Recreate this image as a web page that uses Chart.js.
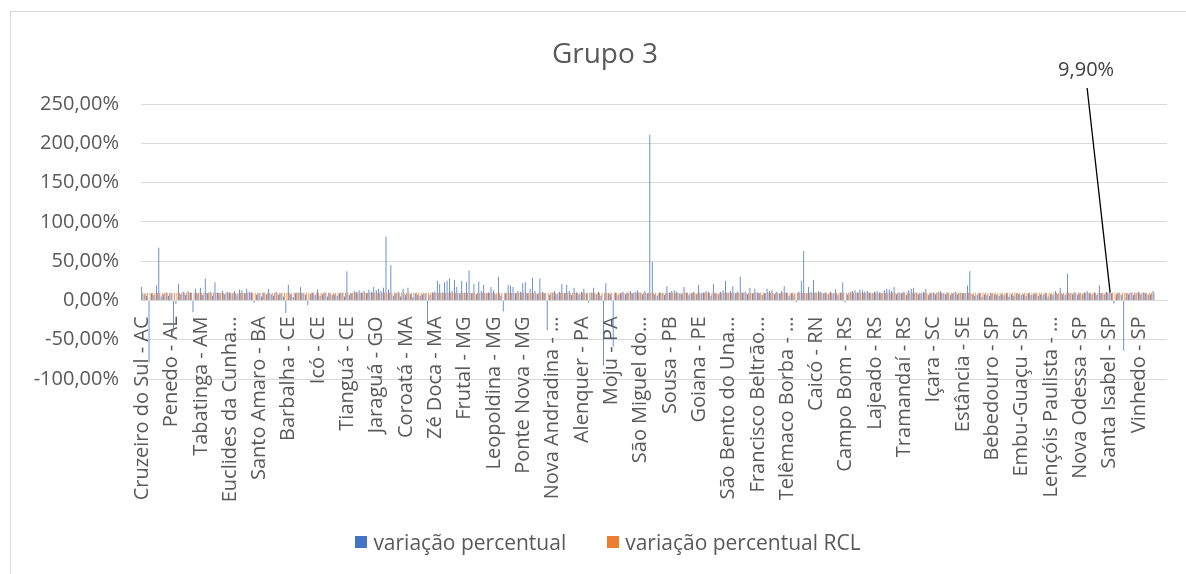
<!DOCTYPE html>
<html>
<head>
<meta charset="utf-8">
<script src="https://cdn.jsdelivr.net/npm/chart.js@4.4.1/dist/chart.umd.min.js"></script>
<style>
  html, body { margin: 0; padding: 0; background: #fff; overflow: hidden; }
  #box { position: absolute; left: 10px; top: 11px; width: 1196px; height: 600px; border: 1px solid #d9d9d9; box-sizing: border-box; }
  #chart { position: absolute; left: 0; top: 0; }
  #title { position: absolute; left: 0; top: 24px; width: 100%; box-sizing: border-box; padding-right: 6px; text-align: center;
           font: 28px "Open Sans", sans-serif; color: #595959; line-height: 32px; }
  #legend { position: absolute; left: 0; top: 516px; width: 100%; height: 28px; display: flex; justify-content: center; gap: 41px;
            font: 21px "Open Sans", sans-serif; color: #595959; line-height: 28px; }
  #legend .item { display: flex; align-items: center; }
  #legend .swatch { display: inline-block; width: 12px; height: 12px; margin-right: 6px; }
</style>
</head>
<body>
<div id="box">
  <canvas id="chart" width="1194" height="562"></canvas>
  <div id="title"></div>
  <div id="legend"></div>
</div>
<script>
const chartTitle = 'Grupo 3';

// Category names shown on the axis (one every labelStep categories)
const categoryNames = [
  'Cruzeiro do Sul - AC', 'Penedo - AL', 'Tabatinga - AM', 'Euclides da Cunha…', 'Santo Amaro - BA',
  'Barbalha - CE', 'Icó - CE', 'Tianguá - CE', 'Jaraguá - GO', 'Coroatá - MA', 'Zé Doca - MA',
  'Frutal - MG', 'Leopoldina - MG', 'Ponte Nova - MG', 'Nova Andradina - …', 'Alenquer - PA',
  'Moju - PA', 'São Miguel do…', 'Sousa - PB', 'Goiana - PE', 'São Bento do Una…',
  'Francisco Beltrão…', 'Telêmaco Borba - …', 'Caicó - RN', 'Campo Bom - RS', 'Lajeado - RS',
  'Tramandaí - RS', 'Içara - SC', 'Estância - SE', 'Bebedouro - SP', 'Embu-Guaçu - SP',
  'Lençóis Paulista - …', 'Nova Odessa - SP', 'Santa Isabel - SP', 'Vinhedo - SP'
];
const labelStep = 12;

// variação percentual (%), one row per labelled group of 12 municipalities
const variacaoValues = [
  17, 8, 6, -79, 9, 7, 19, 67, 5, 8, 10, 6,
  9, -40, -5, 21, 8, 11, 7, 12, 10, -15, 15, 9,
  16, 7, 28, 9, 11, 6, 23, 10, 9, 12, 8, 11,
  10, 9, 12, 8, 14, 13, 9, 15, 11, 10, -3, 7,
  9, 5, 10, 8, 15, 8, 6, 11, 7, 9, 5, -16,
  20, 8, 4, 9, 10, 17, 9, 7, -6, 8, 10, 7,
  14, 6, 8, 10, 5, 9, 7, 8, 6, 9, 10, 5,
  37, 7, 9, 12, 11, 13, 10, 12, 9, 14, 11, 17,
  13, 15, 12, 16, 81, 14, 45, 6, 9, 11, 5, 15,
  7, 16, 8, 4, 9, 7, 6, 8, 9, -28, 7, 10,
  11, 25, 21, 10, 23, 25, 28, 12, 26, 17, 9, 25,
  10, 23, 38, 9, 21, 8, 24, 12, 20, 9, 10, 17,
  13, 8, 30, 6, -14, 9, 20, 19, 17, 9, 12, 11,
  22, 23, 9, 15, 29, 12, 8, 28, 11, 9, -38, 7,
  10, 12, 8, 11, 21, 9, 20, 12, 7, 16, 10, 8,
  11, 15, 9, -3, 10, 16, 8, 11, 6, -83, 22, 9,
  8, -59, 10, 7, 9, 11, 8, 10, 12, 9, 11, 13,
  10, 8, 12, 9, 211, 49, 8, 6, 10, 9, 7, 18,
  10, 12, 13, 11, 9, 8, 17, 10, 7, 9, 11, 8,
  20, 9, 10, 12, 11, 6, 21, 9, 8, 11, 13, 25,
  10, 12, 18, 9, 11, 30, 10, 11, 8, 16, 9, 15,
  10, 9, 7, 9, 15, 12, 13, 8, 11, 9, 12, 18,
  10, 6, 9, 8, -2, 11, 25, 63, 9, 17, 11, 26,
  10, 12, 11, 9, 10, 8, 11, 9, 14, 7, 10, 23,
  -2, 8, 11, 12, 13, 10, 14, 13, 11, 12, 10, 9,
  11, 12, 10, 9, 13, 15, 14, 12, 17, 8, 10, 9,
  11, 7, 13, 15, 16, 10, 8, 9, 11, 15, 7, 9,
  10, 8, 11, 12, 9, 8, 10, 7, 9, 11, 8, 10,
  9, 9, 19, 37, 8, 6, 7, 9, 5, 8, 7, 6,
  9, 8, 7, 6, 8, 7, 9, 5, 8, 6, 9, 8,
  7, 8, 6, 9, 7, 8, 9, 6, 8, 7, 9, 5,
  8, 7, 12, 8, 16, 8, 7, 34, 9, 8, 10, 7,
  9, 8, 10, 12, 9, 8, 10, 7, 19, 9, 8, 11,
  10, 9, -4, 8, 10, 7, -64, 9, 8, 10, 7, 9,
  11, 8, 10, 9, 7, 8, 12, null, null, null, null, null
];

// variação percentual RCL (%)
const rclValues = [
  9.9, 9.9, 9.9, 9.9, 9.9, 9.9, 9.9, 9.9, 9.9, 9.9, 9.9, 9.9,
  9.9, 9.9, 9.9, 9.9, 9.9, 9.9, 9.9, 9.9, 9.9, 9.9, 9.9, 9.9,
  9.9, 9.9, 9.9, 9.9, 9.9, 9.9, 9.9, 9.9, 9.9, 9.9, 9.9, 9.9,
  9.9, 9.9, 9.9, 9.9, 9.9, 9.9, 9.9, 9.9, 9.9, 9.9, 9.9, 9.9,
  9.9, 9.9, 9.9, 9.9, 9.9, 9.9, 9.9, 9.9, 9.9, 9.9, 9.9, 9.9,
  9.9, 9.9, 9.9, 9.9, 9.9, 9.9, 9.9, 9.9, 9.9, 9.9, 9.9, 9.9,
  9.9, 9.9, 9.9, 9.9, 9.9, 9.9, 9.9, 9.9, 9.9, 9.9, 9.9, 9.9,
  9.9, 9.9, 9.9, 9.9, 9.9, 9.9, 9.9, 9.9, 9.9, 9.9, 9.9, 9.9,
  9.9, 9.9, 9.9, 9.9, 9.9, 9.9, 9.9, 9.9, 9.9, 9.9, 9.9, 9.9,
  9.9, 9.9, 9.9, 9.9, 9.9, 9.9, 9.9, 9.9, 9.9, 9.9, 9.9, 9.9,
  9.9, 9.9, 9.9, 9.9, 9.9, 9.9, 9.9, 9.9, 9.9, 9.9, 9.9, 9.9,
  9.9, 9.9, 9.9, 9.9, 9.9, 9.9, 9.9, 9.9, 9.9, 9.9, 9.9, 9.9,
  9.9, 9.9, 9.9, 9.9, 9.9, 9.9, 9.9, 9.9, 9.9, 9.9, 9.9, 9.9,
  9.9, 9.9, 9.9, 9.9, 9.9, 9.9, 9.9, 9.9, 9.9, 9.9, 9.9, 9.9,
  9.9, 9.9, 9.9, 9.9, 9.9, 9.9, 9.9, 9.9, 9.9, 9.9, 9.9, 9.9,
  9.9, 9.9, 9.9, 9.9, 9.9, 9.9, 9.9, 9.9, 9.9, 9.9, 9.9, 9.9,
  9.9, 9.9, 9.9, 9.9, 9.9, 9.9, 9.9, 9.9, 9.9, 9.9, 9.9, 9.9,
  9.9, 9.9, 9.9, 9.9, 9.9, 9.9, 9.9, 9.9, 9.9, 9.9, 9.9, 9.9,
  9.9, 9.9, 9.9, 9.9, 9.9, 9.9, 9.9, 9.9, 9.9, 9.9, 9.9, 9.9,
  9.9, 9.9, 9.9, 9.9, 9.9, 9.9, 9.9, 9.9, 9.9, 9.9, 9.9, 9.9,
  9.9, 9.9, 9.9, 9.9, 9.9, 9.9, 9.9, 9.9, 9.9, 9.9, 9.9, 9.9,
  9.9, 9.9, 9.9, 9.9, 9.9, 9.9, 9.9, 9.9, 9.9, 9.9, 9.9, 9.9,
  9.9, 9.9, 9.9, 9.9, 9.9, 9.9, 9.9, 9.9, 9.9, 9.9, 9.9, 9.9,
  9.9, 9.9, 9.9, 9.9, 9.9, 9.9, 9.9, 9.9, 9.9, 9.9, 9.9, 9.9,
  9.9, 9.9, 9.9, 9.9, 9.9, 9.9, 9.9, 9.9, 9.9, 9.9, 9.9, 9.9,
  9.9, 9.9, 9.9, 9.9, 9.9, 9.9, 9.9, 9.9, 9.9, 9.9, 9.9, 9.9,
  9.9, 9.9, 9.9, 9.9, 9.9, 9.9, 9.9, 9.9, 9.9, 9.9, 9.9, 9.9,
  9.9, 9.9, 9.9, 9.9, 9.9, 9.9, 9.9, 9.9, 9.9, 9.9, 9.9, 9.9,
  9.9, 9.9, 9.9, 9.9, 9.9, 9.9, 9.9, 9.9, 9.9, 9.9, 9.9, 9.9,
  9.9, 9.9, 9.9, 9.9, 9.9, 9.9, 9.9, 9.9, 9.9, 9.9, 9.9, 9.9,
  9.9, 9.9, 9.9, 9.9, 9.9, 9.9, 9.9, 9.9, 9.9, 9.9, 9.9, 9.9,
  9.9, 9.9, 9.9, 9.9, 9.9, 9.9, 9.9, 9.9, 9.9, 9.9, 9.9, 9.9,
  9.9, 9.9, 9.9, 9.9, 9.9, 9.9, 9.9, 9.9, 9.9, 9.9, 9.9, 9.9,
  9.9, 9.9, 9.9, 9.9, 9.9, 9.9, 9.9, 9.9, 9.9, 9.9, 9.9, 9.9,
  9.9, 9.9, 9.9, 9.9, 9.9, 9.9, 9.9, null, null, null, null, null
];

// Y axis range
const yMin = -100;
const yMax = 250;
const yStep = 50;

// The RCL bar that carries the "9,90%" call-out label
const calloutIndex = 396;

const seriesNames = ['variação percentual', 'variação percentual RCL'];
const seriesColors = ['#4472C4', '#ED7D31'];
const textColor = '#595959';
const fontFamily = '"Open Sans", sans-serif';

// Only every labelStep-th category shows its name
const labels = variacaoValues.map((v, i) => (i % labelStep === 0) ? categoryNames[i / labelStep] : '');

const pct = (v) => v.toFixed(2).replace('.', ',') + '%';

// Draw the data label with its leader line
const calloutPlugin = {
  id: 'callout',
  afterDatasetsDraw(chart) {
    const bar = chart.getDatasetMeta(1).data[calloutIndex];
    if (!bar) return;
    const ctx = chart.ctx;
    const tx = bar.x - 24;
    const ty = chart.chartArea.top - 34;
    ctx.save();
    ctx.font = '20px ' + fontFamily;
    ctx.fillStyle = '#404040';
    ctx.textAlign = 'center';
    ctx.textBaseline = 'middle';
    ctx.fillText(pct(rclValues[calloutIndex]), tx, ty);
    ctx.beginPath();
    ctx.moveTo(tx + 1, ty + 18);
    ctx.lineTo(bar.x, bar.y);
    ctx.strokeStyle = '#000';
    ctx.lineWidth = 1.3;
    ctx.stroke();
    ctx.restore();
  }
};

Chart.defaults.font.family = fontFamily;

new Chart(document.getElementById('chart'), {
  type: 'bar',
  data: {
    labels: labels,
    datasets: [
      { label: seriesNames[0], data: variacaoValues, backgroundColor: seriesColors[0], borderWidth: 0 },
      { label: seriesNames[1], data: rclValues, backgroundColor: seriesColors[1], borderWidth: 0 }
    ]
  },
  options: {
    responsive: false,
    animation: false,
    categoryPercentage: 0.85,
    barPercentage: 0.75,
    layout: { padding: { left: 0, right: 38, top: 92, bottom: 195 } },
    plugins: {
      legend: { display: false },
      tooltip: { enabled: false },
      title: { display: false }
    },
    scales: {
      x: {
        position: { y: 0 },
        grid: { display: false },
        border: { color: '#d9d9d9', width: 1 },
        ticks: {
          autoSkip: false,
          minRotation: 90,
          maxRotation: 90,
          padding: 8,
          color: textColor,
          font: { size: 20 }
        }
      },
      y: {
        min: yMin,
        max: yMax,
        grid: { color: '#d9d9d9', drawTicks: false },
        border: { display: false },
        ticks: {
          stepSize: yStep,
          padding: 22,
          color: textColor,
          font: { size: 20 },
          callback: (v) => pct(v)
        },
        afterFit: (scale) => { scale.width = 130; }
      }
    }
  },
  plugins: [calloutPlugin]
});

// Title and legend as plain HTML around the plot
document.getElementById('title').textContent = chartTitle;
const legendEl = document.getElementById('legend');
seriesNames.forEach((name, i) => {
  const item = document.createElement('span');
  item.className = 'item';
  item.innerHTML = '<span class="swatch" style="background:' + seriesColors[i] + '"></span>' + name;
  legendEl.appendChild(item);
});
</script>
</body>
</html>
